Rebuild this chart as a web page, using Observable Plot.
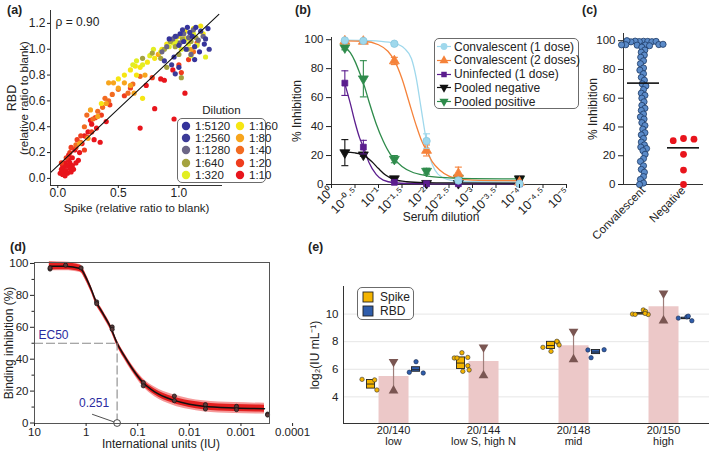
<!DOCTYPE html>
<html>
<head>
<meta charset="utf-8">
<script src="https://cdn.jsdelivr.net/npm/d3@7"></script>
<script src="https://cdn.jsdelivr.net/npm/@observablehq/plot@0.6"></script>
<style>
  html,body{margin:0;padding:0;background:#fff;}
  #root{position:relative;width:709px;height:454px;overflow:hidden;background:#fff;
        font-family:"Liberation Sans",Arial,Helvetica,sans-serif;color:#222;}
  .tag{position:absolute;font-weight:bold;font-size:12.5px;line-height:1;}
  .legend{position:absolute;background:#fff;border:1px solid #6b6b6b;border-radius:5px;box-sizing:border-box;}
  .legend .row{position:absolute;display:flex;align-items:center;white-space:nowrap;}
</style>
</head>
<body>
<div id="root"></div>
<script>
// ======================= DATA =======================
// ---- (a) Spike vs RBD, coloured by dilution ----
const dilutionLabels = ["1:5120","1:2560","1:1280","1:640","1:320","1:160","1:80","1:40","1:20","1:10"];
const dilutionColors = ["#35339b","#3c3b98","#6c6686","#a4a23f","#e2ee22","#f6e612","#f7a51d","#f26b21","#ef3d1e","#e8151c"];
const pts10 = [[0.02,0.04],[0.03,0.07],[0.04,0.03],[0.05,0.05],[0.05,0.09],[0.06,0.12],[0.07,0.06],[0.08,0.10],[0.08,0.04],[0.09,0.14],[0.10,0.08],[0.10,0.12],[0.11,0.05],[0.12,0.16],[0.12,0.10],[0.14,0.22],[0.15,0.12],[0.04,0.10],[0.06,0.02],[0.09,0.18],[0.13,0.07],[0.17,0.14],[0.18,0.20],[0.20,0.27],[0.22,0.33],[0.25,0.36],[0.27,0.45],[0.28,0.42],[0.30,0.30],[0.32,0.39],[0.35,0.28],[0.40,0.44],[0.68,0.39],[0.80,0.54],[0.96,0.46],[1.05,0.66],[0.85,0.77],[0.88,0.76],[0.73,0.72],[0.95,0.84]];
const pts20 = [[0.03,0.12],[0.07,0.16],[0.10,0.20],[0.11,0.24],[0.15,0.24],[0.16,0.30],[0.19,0.33],[0.22,0.22],[0.24,0.32],[0.28,0.36],[0.31,0.47],[0.36,0.49],[0.43,0.57],[0.55,0.64],[0.60,0.70],[0.78,0.78],[1.00,0.88],[1.02,0.82],[1.08,0.92]];
const pts40 = [[0.15,0.26],[0.19,0.28],[0.22,0.40],[0.24,0.49],[0.29,0.46],[0.33,0.52],[0.37,0.55],[0.39,0.62],[0.42,0.60],[0.45,0.65],[0.50,0.69],[0.58,0.66],[0.62,0.73],[0.68,0.79],[1.12,0.98],[1.15,1.05]];
const pts80 = [[0.18,0.27],[0.25,0.31],[0.27,0.53],[0.33,0.48],[0.40,0.58],[0.42,0.74],[0.46,0.74],[0.50,0.70],[0.55,0.74],[0.60,0.72],[0.63,0.66],[0.72,0.80],[0.83,0.96],[1.10,1.00],[1.05,1.08],[0.96,1.05]];
const pts160 = [[0.36,0.58],[0.50,0.77],[0.55,0.80],[0.60,0.84],[0.64,0.87],[0.65,0.80],[0.68,0.86],[0.70,0.62],[0.74,0.90],[0.80,0.93],[0.86,1.00],[0.90,1.04],[1.00,1.10],[1.05,1.14],[1.12,1.16],[1.18,1.18],[1.20,1.12]];
const pts320 = [[0.62,0.88],[0.65,0.91],[0.70,0.88],[0.76,0.95],[0.79,1.00],[0.85,0.98],[0.92,1.02],[0.95,1.05],[0.98,1.06],[1.02,1.00],[1.06,1.08],[1.08,1.04],[1.12,1.12],[1.15,1.03],[1.22,0.94],[1.10,0.95]];
const pts640 = [[0.70,0.93],[0.78,0.97],[0.85,0.93],[0.88,1.00],[0.93,1.06],[0.97,1.02],[1.00,0.96],[1.03,1.08],[1.07,1.00],[1.10,1.06],[1.14,1.09],[1.02,0.78],[0.90,0.86]];
const pts1280 = [[0.86,0.98],[0.90,1.02],[0.95,1.08],[0.98,1.10],[1.01,1.05],[1.04,1.12],[1.08,1.09],[1.12,1.15],[1.16,1.07],[1.20,1.10],[1.10,0.96]];
const pts2560 = [[0.88,0.91],[0.94,0.88],[0.97,1.10],[1.00,1.03],[1.03,1.15],[1.06,1.00],[1.09,1.13],[1.13,1.02],[1.18,1.14],[1.22,1.08],[1.25,1.00],[0.97,0.81]];
const pts5120 = [[0.92,1.08],[0.96,0.94],[1.01,1.12],[1.04,1.06],[1.07,1.17],[1.11,1.10],[1.14,1.17],[1.17,0.98],[1.21,1.04],[1.24,1.16],[1.00,0.86],[1.13,0.92]];
const fitSpike = [-0.06, 1.33];
const fitRbd = [0.045, 1.27];
const aXTicks = [0, 0.5, 1.0];
const aYTicks = [0, 0.2, 0.4, 0.6, 0.8, 1.0, 1.2];
const rhoLabel = "ρ = 0.90";

// ---- (b) inhibition vs serum dilution ----
const bSeriesNames = ["Convalescent (1 dose)","Convalescent (2 doses)","Uninfected (1 dose)","Pooled negative","Pooled positive"];
const bDilution = [0.52, 0.21, 0.046, 0.0095, 0.002, 0.0001];
const conv1Mean = [99.5, 99.2, 97.2, 30, 2.8, 0.5];
const conv1Err  = [0, 0, 0, 5, 1.5, 0];
const conv2Mean = [99, 98.8, 85.3, 23.5, 7.5, 1.5];
const conv2Err  = [0, 0, 2.5, 3.8, 4.5, 0];
const uninfMean = [70, 25.8, 1.5, 0.5, 0.5, 0.5];
const uninfErr  = [8.5, 4.7, 0, 0, 0, 0];
const pnegMean  = [22, 20.5, 4, 0.8, 0.8, 4];
const pnegErr   = [9, 1, 1.3, 0, 0, 1];
const pposMean  = [94.5, 73, 17.5, 9.2, 4.5, 3.5];
const pposErr   = [1.5, 12.5, 2.5, 2, 0, 0];
// fitted curves: -log10(dilution) and % inhibition
const conv1CurveLog = [0.28,0.68,1.0,1.34,1.55,1.7,1.8,1.9,2.02,2.1,2.2,2.35,2.6,3.0,4.0];
const conv1CurveVal = [99.7,99.5,99,97.5,94,87,74,54,30,18,10,5,2.6,1.9,1.7];
const conv2CurveLog = [0.28,0.68,1.0,1.2,1.34,1.5,1.65,1.8,1.92,2.02,2.15,2.3,2.5,2.7,3.0,4.0];
const conv2CurveVal = [99.2,98.9,96.5,92,85.5,73,57,41,30,23.5,15.5,10,5.8,4,3,2.6];
const uninfCurveLog = [0.28,0.4,0.5,0.6,0.68,0.8,0.95,1.1,1.34,1.7,2.2,4.0];
const uninfCurveVal = [70,56,43,32,25.8,15,7,3,1.2,0.7,0.5,0.5];
const pnegCurveLog  = [0.28,0.5,0.68,0.85,1.0,1.15,1.34,1.6,2.0,2.5,4.0];
const pnegCurveVal  = [22.3,21.8,20.3,16,11,6.5,3.3,1.9,1.3,1.1,1.0];
const pposCurveLog  = [0.28,0.4,0.5,0.6,0.68,0.8,0.95,1.1,1.25,1.34,1.5,1.7,2.0,2.5,3.0,4.0];
const pposCurveVal  = [95,91,85,77,70,57,42,30,21,17.5,12.5,8.8,6.2,4.6,4.1,3.9];
const bXTickExp = [0,0.5,1,1.5,2,2.5,3,3.5,4,4.5,5];
const bYTicks = [0,20,40,60,80,100];

// ---- (c) % inhibition per group ----
const cGroups = ["Convalescent","Negative"];
const convValues = [99.6,99.4,99.5,99.3,99.7,99.2,99.5,100,97.3,97.0,97.2,97.5,96.9,97.1,96.5,
  95.5,93.5,92,90,88.5,86,84,81,79.5,77,74.5,72.5,70,68.5,66,63.5,62,60,57.5,55,53,51.5,49,47,45.5,43,41,38.5,36,34.5,32,29.5,27.5,26,25,23.5,21,18,16,13,10.5,8.5,5.5,3.5,1,0];
const negValues = [32, 30.5, 31.5, 21, 10, 0];
const cMeans = [70.5, 25.5];
const cYTicks = [0,20,40,60,80,100];

// ---- (d) binding inhibition vs international units ----
const dIU  = [5,5,2.5,1.25,0.625,0.625,0.3125,0.3125,0.078,0.078,0.0195,0.0195,0.00488,0.00488,0.00122,0.00122,0.000305,0.000305];
const dInh = [96.5,97.2,98.9,97.2,75.9,74.8,60.2,58.7,25.3,23.3,16.9,14.0,11.5,8.8,10.4,8.4,5.6,5.0];
const dCurveIU  = [5.15,2.54,1.30,1.0,0.80,0.64,0.47,0.33,0.251,0.186,0.130,0.080,0.047,0.021,0.010,0.0054,0.00136,0.00035];
const dCurveInh = [98.3,98.2,96.8,91,84,76,68.5,59.5,50,42.5,34.5,25.5,19.5,14.5,11.8,10.5,9.4,9.0];
const dBandInner = [2.4,2.2,2.0,1.8,1.6,1.5,1.5,1.5,1.5,1.5,1.5,1.6,1.8,2.0,2.1,2.2,2.2,2.2];
const dBandOuter = [2.9,2.7,2.5,2.3,2.1,2.0,2.0,2.0,2.0,2.0,2.2,2.6,3.0,3.3,3.4,3.4,3.4,3.4];
const ec50 = 0.251;
const ec50Label = "0.251";
const dXTicks = [10,1,0.1,0.01,0.001,0.0001];
const dYTicks = [0,20,40,60,80,100];
const dYMinor = [10,30,50,70,90];

// ---- (e) log2(IU/mL) per standard ----
const eGroupLabels = ["20/140\nlow","20/144\nlow S, high N","20/148\nmid","20/150\nhigh"];
const eMean  = [5.47, 6.57, 7.71, 10.53];
const eLower = [4.45, 5.55, 6.72, 9.52];
const eUpper = [6.55, 7.6, 8.74, 11.5];
const spikeQ1  = [4.6, 6.02, 7.47, 9.98];
const spikeMed = [4.93, 6.45, 7.72, 10.02];
const spikeQ3  = [5.22, 6.86, 7.99, 10.08];
const spikePoints = [[5.27,5.23,4.5],[6.82,6.82,7.2,6.86,6.26,5.85,5.95],[7.59,7.3,7.95,7.76,8.03],[10.0,9.98,10.3,10.2,9.97,10.05]];
const spikeJitter = [[-0.10,0.04,0.065],[-0.075,-0.045,0.01,0.075,0.075,0.02,0.09],[-0.09,0,0.075,0.09,0.065],[-0.095,-0.065,0.025,0.05,0.08,0.045]];
const rbdGroups = [0, 2, 3];
const rbdQ1  = [5.82, 7.1, 9.63];
const rbdMed = [5.97, 7.25, 9.68];
const rbdQ3  = [6.15, 7.4, 9.74];
const rbdPoints = [[5.78,6.55,5.73],[7.4,7.42,6.84],[9.71,9.8,9.85,9.52]];
const rbdJitter = [[-0.075,0,0.08],[-0.09,0.09,-0.055],[-0.085,0.01,0.025,0.065]];
const eYTicks = [4,6,8,10];

// ======================= DRAWING =======================
const W = 709, H = 454;
const FONT = '"Liberation Sans", Arial, Helvetica, sans-serif';
const root = document.getElementById("root");
const baseStyle = {background:"transparent", overflow:"visible", fontFamily:FONT, fontSize:"11.5px", color:"#222"};
function mount(svg){ svg.style.position="absolute"; svg.style.left="0px"; svg.style.top="0px"; root.appendChild(svg); }
function addDiv(cls, css, html){ const d=document.createElement("div"); d.className=cls; Object.assign(d.style, css); if(html!=null) d.innerHTML=html; root.appendChild(d); return d; }
const capSym = {draw(ctx, size){ const w = Math.sqrt(size/Math.PI); ctx.moveTo(-w,0); ctx.lineTo(w,0); }};
const AXIS = "#333";
const yTitle = (t, dx, fs=12) => Plot.text([t], {frameAnchor:"left", dx, rotate:-90, textAnchor:"middle", lineAnchor:"middle", fontSize:fs});
const xTitle = (t, dy, dx=0, fs=12) => Plot.text([t], {frameAnchor:"bottom", dy, dx, textAnchor:"middle", lineAnchor:"middle", fontSize:fs});

// ---------- (a) ----------
const aSets = {"1:10":pts10,"1:20":pts20,"1:40":pts40,"1:80":pts80,"1:160":pts160,"1:320":pts320,"1:640":pts640,"1:1280":pts1280,"1:2560":pts2560,"1:5120":pts5120};
const aData = [];
[...dilutionLabels].reverse().forEach(lab => aSets[lab].forEach(([s,r]) => aData.push({spike:s, rbd:r, dilution:lab})));
const aXmin = -0.06, aYmin = -0.055;
mount(Plot.plot({
  width:W, height:H, marginLeft:50, marginRight:W-222, marginTop:10, marginBottom:H-185,
  style:baseStyle,
  x:{domain:[aXmin,1.36], label:null}, y:{domain:[aYmin,1.3], label:null},
  color:{domain:dilutionLabels, range:dilutionColors},
  marks:[
    Plot.dot(aData, {x:"spike", y:"rbd", fill:"dilution", r:2.6}),
    Plot.line(fitSpike.map((s,i)=>({s, r:fitRbd[i]})), {x:"s", y:"r", stroke:"#111", strokeWidth:1.1}),
    Plot.ruleX([aXmin], {stroke:AXIS}),
    Plot.ruleY([aYmin], {stroke:AXIS}),
    Plot.axisX({ticks:aXTicks, tickFormat:d3.format(".1f"), tickSize:3, tickPadding:0, fontSize:12, label:null}),
    Plot.axisY({ticks:aYTicks, tickFormat:d3.format(".1f"), tickSize:3, tickPadding:2, fontSize:12, label:null}),
    Plot.text([rhoLabel], {frameAnchor:"top-left", dx:5, dy:7, fontSize:12, textAnchor:"start"}),
    yTitle("RBD", -39, 12.5),
    yTitle("(relative ratio to blank)", -26, 11.5),
    xTitle("Spike (relative ratio to blank)", 23, 0, 11.5)
  ]
}));
// legend (a)
addDiv("", {position:"absolute", left:"177px", top:"104px", width:"89px", textAlign:"center", fontSize:"11.5px"}, "Dilution");
const aLeg = addDiv("legend", {left:"177px", top:"118px", width:"89px", height:"65px"});
dilutionLabels.forEach((lab, i) => {
  const col = Math.floor(i/5), row = i%5;
  const r = document.createElement("div"); r.className="row";
  Object.assign(r.style, {left:(2+col*54)+"px", top:(1+row*12.2)+"px", height:"12px", fontSize:"11.5px"});
  r.innerHTML = `<svg width="12" height="12" style="margin-right:3px"><circle cx="6" cy="6" r="4.2" fill="${dilutionColors[i]}"/></svg>${lab}`;
  aLeg.appendChild(r);
});

// ---------- (b) ----------  x position = -log10(dilution) on a linear scale
const bColors = ["#9fd8ec","#f5823a","#5b1d8e","#111111","#2e8b4b"];
const bSymbols = ["circle","triangle","square","triangle","triangle"];
const bRotate = [0,0,0,180,180];
const bMeans = [conv1Mean, conv2Mean, uninfMean, pnegMean, pposMean];
const bErrs = [conv1Err, conv2Err, uninfErr, pnegErr, pposErr];
const bCurveLogs = [conv1CurveLog, conv2CurveLog, uninfCurveLog, pnegCurveLog, pposCurveLog];
const bCurveVals = [conv1CurveVal, conv2CurveVal, uninfCurveVal, pnegCurveVal, pposCurveVal];
const supMap = {"0":"⁰","1":"¹","2":"²","3":"³","4":"⁴","5":"⁵",".":"·","-":"⁻"};
const toSup = s => String(s).split("").map(c => supMap[c] ?? c).join("");
const expFmt = e => "10" + toSup(e === 0 ? "0" : "-" + e);
const bMarks = [
  Plot.ruleY([0], {stroke:AXIS}),
  Plot.ruleX([0], {stroke:AXIS})
];
bSeriesNames.forEach((name, k) => {
  const curve = bCurveLogs[k].map((d,i) => ({x:d, y:bCurveVals[k][i]}));
  bMarks.push(Plot.line(curve, {x:"x", y:"y", stroke:bColors[k], strokeWidth:1.3, curve:"monotone-x"}));
});
[4,3,2,1,0].forEach(k => {
  const pts = bDilution.map((dil,i) => ({x:-Math.log10(dil), y:bMeans[k][i], lo:bMeans[k][i]-bErrs[k][i], hi:bMeans[k][i]+bErrs[k][i], e:bErrs[k][i]}));
  const ep = pts.filter(p => p.e > 0);
  bMarks.push(Plot.ruleX(ep, {x:"x", y1:"lo", y2:"hi", stroke:bColors[k], strokeWidth:1.1}));
  bMarks.push(Plot.dot(ep, {x:"x", y:"lo", symbol:capSym, r:3.5, stroke:bColors[k], strokeWidth:1.1, fill:"none"}));
  bMarks.push(Plot.dot(ep, {x:"x", y:"hi", symbol:capSym, r:3.5, stroke:bColors[k], strokeWidth:1.1, fill:"none"}));
  bMarks.push(Plot.dot(pts, {x:"x", y:"y", symbol:bSymbols[k], rotate:bRotate[k], r:k===2?3.3:3.7, fill:bColors[k], stroke:k===0?"#86c6de":bColors[k], strokeWidth:0.8}));
});
bMarks.push(
  Plot.axisX({ticks:bXTickExp, tickFormat:expFmt, tickRotate:-45, tickSize:4, tickPadding:1, fontSize:12.5, label:null}),
  Plot.axisY({ticks:bYTicks, tickSize:5, tickPadding:3, fontSize:11.5, label:null}),
  yTitle("% Inhibition", -34),
  xTitle("Serum dilution", 33, -8)
);
mount(Plot.plot({
  width:W, height:H, marginLeft:331, marginRight:W-566, marginTop:37, marginBottom:H-184,
  style:baseStyle,
  x:{domain:[0,5], label:null}, y:{domain:[0,101.5], label:null},
  marks:bMarks
}));
// legend (b)
const bLeg = addDiv("legend", {left:"434px", top:"38px", width:"145px", height:"71px"});
bSeriesNames.forEach((name, k) => {
  const r = document.createElement("div"); r.className="row";
  Object.assign(r.style, {left:"1px", top:(1+k*13.8)+"px", height:"13px", fontSize:"12px"});
  const path = d3.symbol().type(k===0?d3.symbolCircle:k===2?d3.symbolSquare:d3.symbolTriangle).size(k===2?30:36)();
  r.innerHTML = `<svg width="16" height="13" style="margin-right:2px"><line x1="1" x2="15" y1="6.5" y2="6.5" stroke="${bColors[k]}" stroke-width="1.2"/><path d="${path}" transform="translate(8,6.5) rotate(${bRotate[k]})" fill="${bColors[k]}"/></svg>${name}`;
  bLeg.appendChild(r);
});

// ---------- (c) ----------
// simple beeswarm: horizontal offsets (px) so that dots keep at least `gap` px apart
function swarm(values, pxPerUnit, gap){
  const placed = [];
  return values.map(v => {
    const y = v * pxPerUnit;
    const cands = [0];
    for (const p of placed) { const dy = Math.abs(p.y - y); if (dy < gap) { const dx = Math.sqrt(gap*gap - dy*dy); cands.push(p.x + dx, p.x - dx); } }
    cands.sort((a,b) => Math.abs(a) - Math.abs(b) || a - b);
    const x = cands.find(c => placed.every(p => (p.x-c)**2 + (p.y-y)**2 >= gap*gap - 1e-6));
    placed.push({x, y});
    return x;
  });
}
const cTop = 33, cBottom = 184, cYmax = 105, cStep = 40;
const cPx = (cBottom - cTop) / cYmax;
const convOff = swarm(convValues, cPx, 4.2);
const negOff = swarm(negValues, cPx, 10.5);
const cConv = convValues.map((v,i) => ({x: 0 + convOff[i]/cStep, v}));
const cNeg = negValues.map((v,i) => ({x: 1 + negOff[i]/cStep, v}));
const cMeanData = cMeans.map((v,i) => ({i, v}));
mount(Plot.plot({
  width:W, height:H, marginLeft:623, marginRight:W-703, marginTop:cTop, marginBottom:H-cBottom,
  style:baseStyle,
  x:{domain:[-0.5,1.5], label:null},
  y:{domain:[0,cYmax], label:null},
  marks:[
    Plot.ruleY([0], {stroke:AXIS}),
    Plot.ruleX([-0.5], {stroke:AXIS}),
    Plot.dot(cConv, {x:"x", y:"v", r:3.1, fill:"#5b8bc9", stroke:"#1d3a64", strokeWidth:0.8}),
    Plot.dot(cNeg, {x:"x", y:"v", r:3.4, fill:"#e8141c"}),
    Plot.ruleY(cMeanData, {x1:d => d.i - 0.4, x2:d => d.i + 0.4, y:"v", stroke:"#111", strokeWidth:1.6}),
    Plot.axisY({ticks:cYTicks, tickSize:5, tickPadding:3, fontSize:11.5, label:null}),
    Plot.axisX({ticks:[0,1], tickFormat:i => cGroups[i], tickRotate:-45, tickSize:0, tickPadding:4, fontSize:11.5, label:null}),
    yTitle("% Inhibition", -30)
  ]
}));

// ---------- (d) ----------
const dPts = dIU.map((x,i) => ({x, y:dInh[i]}));
const dCurve = dCurveIU.map((x,i) => ({x, y:dCurveInh[i], lo1:dCurveInh[i]-dBandOuter[i], hi1:dCurveInh[i]+dBandOuter[i], lo2:dCurveInh[i]-dBandInner[i], hi2:dCurveInh[i]+dBandInner[i]}));
const dXmax = 10;
mount(Plot.plot({
  width:W, height:H, marginLeft:34, marginRight:W-269, marginTop:262, marginBottom:H-423,
  style:baseStyle,
  x:{type:"log", domain:[dXmax, 0.00028], label:null}, y:{domain:[-0.3,100.6], label:null},
  marks:[
    Plot.areaY(dCurve, {x:"x", y1:"lo1", y2:"hi1", fill:"#f59a9a", curve:"monotone-x"}),
    Plot.areaY(dCurve, {x:"x", y1:"lo2", y2:"hi2", fill:"#e41f1f", curve:"monotone-x"}),
    Plot.line(dCurve, {x:"x", y:"y", stroke:"#111", strokeWidth:1.5, curve:"monotone-x"}),
    Plot.ruleY([50], {x1:dXmax, x2:ec50, stroke:"#8a8a8a", strokeDasharray:"9,3", strokeWidth:1.1}),
    Plot.ruleX([ec50], {y1:0, y2:50, stroke:"#8a8a8a", strokeDasharray:"9,3", strokeWidth:1.1}),
    Plot.dot(dPts, {x:"x", y:"y", r:2.1, fill:"#5a3a3a", stroke:"#111", strokeWidth:0.7}),
    Plot.link([ec50], {x1:d=>d, y1:0, x2:d=>d*3.05, y2:5.5, stroke:"#222", strokeWidth:0.8}),
    Plot.dot([ec50], {x:d=>d, y:0, r:3.4, fill:"#fff", stroke:"#333", strokeWidth:0.9}),
    Plot.text([ec50Label], {x:()=>ec50, y:()=>0, dx:-23, dy:-20, fill:"#2b2ba0", fontSize:12}),
    Plot.text(["EC50"], {frameAnchor:"left", y:()=>50, dx:4, dy:-8, textAnchor:"start", fill:"#2b2ba0", fontSize:12}),
    Plot.frame({stroke:"#555"}),
    Plot.axisX({ticks:dXTicks, tickFormat:d => String(d), tickSize:3, tickPadding:1, fontSize:11.5, label:null}),
    Plot.axisY({ticks:dYTicks, tickSize:4, tickPadding:2, fontSize:11.5, label:null}),
    Plot.axisY({ticks:dYMinor, tickSize:2.5, tickFormat:()=>"", label:null}),
    yTitle("Binding inhibition (%)", -25),
    xTitle("International units (IU)", 21, 9)
  ]
}));

// ---------- (e) ----------
const eXmin = -0.556, eYmin = 2.07, SIDE = 0.25, BOXW = 0.045;
const eBars = eMean.map((v,i) => ({i, v, lo:eLower[i], hi:eUpper[i]}));
const spikeBoxes = spikeQ1.map((q,i) => ({c:i-SIDE, q1:q, med:spikeMed[i], q3:spikeQ3[i]}));
const rbdBoxes = rbdGroups.map((g,k) => ({c:g+SIDE, q1:rbdQ1[k], med:rbdMed[k], q3:rbdQ3[k]}));
const spikeDots = spikePoints.flatMap((arr,i) => arr.map((v,j) => ({x:i-SIDE+spikeJitter[i][j], y:v})));
const rbdDots = rbdPoints.flatMap((arr,k) => arr.map((v,j) => ({x:rbdGroups[k]+SIDE+rbdJitter[k][j], y:v})));
mount(Plot.plot({
  width:W, height:H, marginLeft:343, marginRight:0, marginTop:286, marginBottom:H-423,
  style:baseStyle,
  x:{domain:[eXmin, 3.511], label:null}, y:{domain:[eYmin,12], label:null},
  marks:[
    Plot.ruleY(eYTicks, {stroke:"#e6e6e6"}),
    Plot.ruleX(eBars, {x:"i", y1:eYmin, y2:"v", stroke:"#ecc8c8", strokeWidth:30}),
    Plot.ruleX(eBars, {x:"i", y1:"lo", y2:"hi", stroke:"#a07f7b", strokeWidth:1.2}),
    Plot.dot(eBars, {x:"i", y:"hi", symbol:"triangle", rotate:180, r:3.6, fill:"#7a5652"}),
    Plot.dot(eBars, {x:"i", y:"lo", symbol:"triangle", r:3.6, fill:"#7a5652"}),
    Plot.rect(spikeBoxes, {x1:d=>d.c-BOXW, x2:d=>d.c+BOXW, y1:"q1", y2:"q3", fill:"#f4b400", stroke:"#222", strokeWidth:0.9}),
    Plot.ruleY(spikeBoxes, {x1:d=>d.c-BOXW, x2:d=>d.c+BOXW, y:"med", stroke:"#222", strokeWidth:0.9}),
    Plot.rect(rbdBoxes, {x1:d=>d.c-BOXW, x2:d=>d.c+BOXW, y1:"q1", y2:"q3", fill:"#2f5dab", stroke:"#222", strokeWidth:0.9}),
    Plot.ruleY(rbdBoxes, {x1:d=>d.c-BOXW, x2:d=>d.c+BOXW, y:"med", stroke:"#222", strokeWidth:0.9}),
    Plot.dot(spikeDots, {x:"x", y:"y", r:2.2, fill:"#f4b400", stroke:"#333", strokeWidth:0.6}),
    Plot.dot(rbdDots, {x:"x", y:"y", r:2.2, fill:"#2f5dab", stroke:"#1a2a4a", strokeWidth:0.6}),
    Plot.ruleX([eXmin], {stroke:AXIS}),
    Plot.ruleY([eYmin], {stroke:AXIS}),
    Plot.axisY({ticks:eYTicks, tickSize:0, tickPadding:5, fontSize:11.5, label:null}),
    Plot.axisX({ticks:[0,1,2,3], tickFormat:i => eGroupLabels[i], tickSize:0, tickPadding:3, fontSize:11, lineHeight:1, label:null}),
    yTitle("log₂(IU mL⁻¹)", -28)
  ]
}));
// legend (e)
const eLeg = addDiv("legend", {left:"357px", top:"287px", width:"57px", height:"33px"});
[["Spike","#f4b400"],["RBD","#2f5dab"]].forEach(([name,col],k) => {
  const r = document.createElement("div"); r.className="row";
  Object.assign(r.style, {left:"4px", top:(2+k*14)+"px", height:"14px", fontSize:"12px"});
  r.innerHTML = `<svg width="12" height="12" style="margin-right:6px"><rect x="1" y="1" width="10" height="10" fill="${col}" stroke="#222" stroke-width="0.9"/></svg>${name}`;
  eLeg.appendChild(r);
});

// ---------- panel tags ----------
[["(a)",7,4],["(b)",295,4],["(c)",582,4],["(d)",10,241],["(e)",308,241]].forEach(([t,x,y]) =>
  addDiv("tag", {left:x+"px", top:y+"px"}, t));
</script>
</body>
</html>
